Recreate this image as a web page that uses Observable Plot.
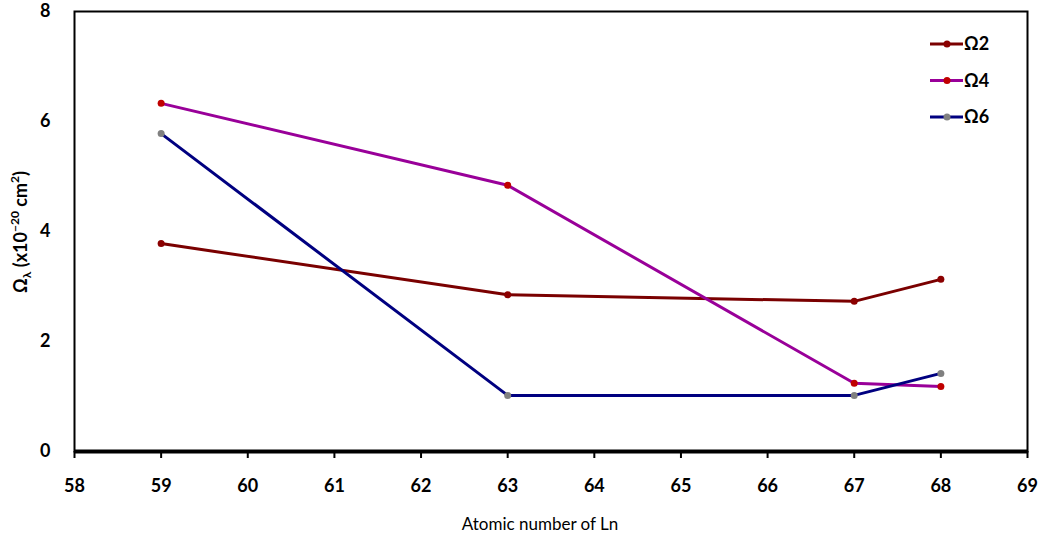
<!DOCTYPE html>
<html><head><meta charset="utf-8">
<script src="https://cdn.jsdelivr.net/npm/d3@7"></script>
<script src="https://cdn.jsdelivr.net/npm/@observablehq/plot@0.6"></script>
<style>
body{margin:0;background:#fff;}
svg{font-family:Lato,"Open Sans",sans-serif;}
</style></head>
<body><div id="chart"></div>
<script>
const atomicNumbers = [59, 63, 67, 68];
const omega2 = [3.78, 2.85, 2.73, 3.13];
const omega4 = [6.33, 4.84, 1.24, 1.18];
const omega6 = [5.78, 1.02, 1.02, 1.42];
const seriesNames = ["Ω2", "Ω4", "Ω6"];
const lineColors = ["#7a0000", "#990099", "#000080"];
const markerColors = ["#8b0000", "#c00000", "#808080"];
const xTicks = [58,59,60,61,62,63,64,65,66,67,68,69];
const yTicks = [0,2,4,6,8];

const allSeries = [omega2, omega4, omega6];
const data = [];
allSeries.forEach((vals, i) => vals.forEach((v, j) => data.push({s: seriesNames[i], i, x: atomicNumbers[j], y: v})));

const W = 1042, H = 544;
const chart = Plot.plot({
  width: W, height: H,
  marginLeft: 74, marginRight: 15, marginTop: 11, marginBottom: 93,
  style: {fontSize: "18px", fontWeight: "bold", background: "#fff", color: "#000", fontFamily: "Lato, 'Open Sans', sans-serif"},
  x: {domain: [58, 69], label: null},
  y: {domain: [0, 8], label: null},
  marks: [
    Plot.frame({stroke: "#000", strokeWidth: 2}),
    Plot.ruleY([0], {stroke: "#000", strokeWidth: 4}),
    Plot.axisX({ticks: xTicks, tickFormat: d => String(d), tickSize: 7, tickPadding: 21, strokeWidth: 2, label: null}),
    Plot.axisY({ticks: yTicks, tickFormat: d => String(d), tickSize: 0, tickPadding: 24, label: null}),
    ...seriesNames.map((n, i) => Plot.line(data.filter(d => d.i === i), {x: "x", y: "y", stroke: lineColors[i], strokeWidth: 3})),
    ...seriesNames.map((n, i) => Plot.dot(data.filter(d => d.i === i), {x: "x", y: "y", fill: markerColors[i], r: 3.5}))
  ]
});
document.getElementById("chart").appendChild(chart);

const svg = d3.select(chart);
// x label
svg.append("text").attr("x", 540).attr("y", 530).attr("text-anchor", "middle")
  .attr("font-size", 17).attr("font-weight", "normal").attr("fill", "#000")
  .text("Atomic number of Ln");
// y label
const yl = svg.append("text").attr("transform", "translate(27,232) rotate(-90)")
  .attr("text-anchor", "middle").attr("font-size", 18).attr("font-weight", "bold").attr("fill", "#000");
yl.append("tspan").text("Ω");
yl.append("tspan").attr("font-size", 12).attr("dy", 4).text("λ");
yl.append("tspan").attr("dy", -4).text(" (x10");
yl.append("tspan").attr("font-size", 12).attr("dy", -8).text("−20");
yl.append("tspan").attr("dy", 8).text(" cm");
yl.append("tspan").attr("font-size", 12).attr("dy", -8).text("2");
yl.append("tspan").attr("dy", 8).text(")");
// legend
const lg = svg.append("g");
seriesNames.forEach((n, i) => {
  const y = 44 + i * 36.5;
  lg.append("line").attr("x1", 930).attr("x2", 963).attr("y1", y).attr("y2", y)
    .attr("stroke", lineColors[i]).attr("stroke-width", 3);
  lg.append("circle").attr("cx", 947).attr("cy", y).attr("r", 3.5).attr("fill", markerColors[i]);
  lg.append("text").attr("x", 964).attr("y", y).attr("dy", "0.36em").attr("font-size", 18)
    .attr("text-anchor", "start").attr("font-weight", "bold").attr("fill", "#000").text(n);
});
</script></body></html>
